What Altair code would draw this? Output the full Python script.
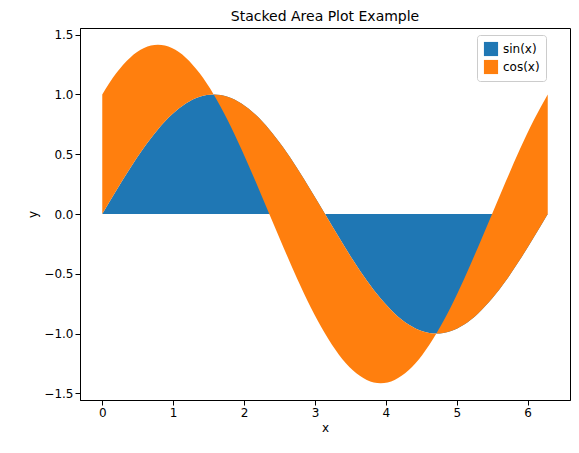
import altair as alt
import pandas as pd

x = [0, 0.196, 0.393, 0.589, 0.785, 0.982, 1.178, 1.374, 1.571, 1.767, 1.963, 2.160, 2.356, 2.553, 2.749, 2.945, 3.142, 3.338, 3.534, 3.731, 3.927, 4.123, 4.320, 4.516, 4.712, 4.909, 5.105, 5.301, 5.498, 5.694, 5.890, 6.087, 6.283]
sin_v = [0, .195, .383, .556, .707, .831, .924, .981, 1, .981, .924, .831, .707, .556, .383, .195, 0, -.195, -.383, -.556, -.707, -.831, -.924, -.981, -1, -.981, -.924, -.831, -.707, -.556, -.383, -.195, 0]
cos_v = [1, .981, .924, .831, .707, .556, .383, .195, 0, -.195, -.383, -.556, -.707, -.831, -.924, -.981, -1, -.981, -.924, -.831, -.707, -.556, -.383, -.195, 0, .195, .383, .556, .707, .831, .924, .981, 1]
series = ["sin(x)", "cos(x)"]
colors = ["#1f77b4", "#ff7f0e"]

rows = []
for xi, s, c in zip(x, sin_v, cos_v):
    rows.append({"x": xi, "s": "sin(x)", "y0": 0, "y1": s})
    rows.append({"x": xi, "s": "cos(x)", "y0": s, "y1": s + c})
df = pd.DataFrame(rows)

chart = alt.Chart(df).mark_area(interpolate="monotone", opacity=1).encode(
    x=alt.X("x:Q", title="x", scale=alt.Scale(domain=[-0.314, 6.597], nice=False, zero=False),
            axis=alt.Axis(values=[0, 1, 2, 3, 4, 5, 6], grid=False, format="d")),
    y=alt.Y("y0:Q", title="y", scale=alt.Scale(domain=[-1.555, 1.555], nice=False),
            axis=alt.Axis(values=[-1.5, -1, -0.5, 0, 0.5, 1, 1.5], grid=False, format=".1f")),
    y2="y1:Q",
    color=alt.Color("s:N", scale=alt.Scale(domain=series, range=colors), sort=series,
                    legend=alt.Legend(title=None, orient="none", legendX=397, legendY=7,
                                      symbolType="square", symbolSize=200, labelFontSize=12,
                                      strokeColor="#cccccc", padding=6, cornerRadius=3,
                                      fillColor="white")),
    order=alt.Order("s:N", sort="descending"),
).properties(
    width=490, height=372,
    title=alt.Title("Stacked Area Plot Example", fontSize=14, fontWeight="normal", font="DejaVu Sans"),
    autosize=alt.AutoSizeParams(type="none"),
    padding={"left": 72, "top": 20, "right": 1, "bottom": 45},
).configure_view(stroke="black", strokeWidth=1).configure_axis(
    labelFont="DejaVu Sans", titleFont="DejaVu Sans", labelFontSize=12, titleFontSize=12,
    titleFontWeight="normal", domainColor="black", tickColor="black", labelColor="black"
).configure_legend(labelFont="DejaVu Sans")

chart.save("out.html", embed_options={"renderer": "svg", "actions": False})
